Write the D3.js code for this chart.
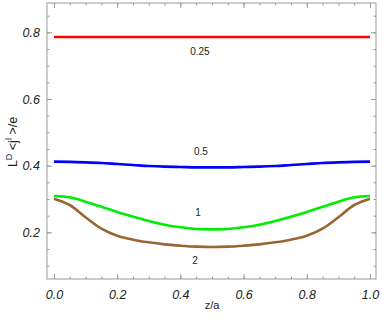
<!DOCTYPE html>
<html>
<head>
<meta charset="UTF-8">
<script src="https://d3js.org/d3.v7.min.js"></script>
<style>
  body { margin: 0; background: #fff; }
  .tick text { font-family: "Liberation Sans", Arial, sans-serif; font-style: italic; font-size: 12.5px; fill: #222; }
  .curveLabel { font-family: "Liberation Sans", Arial, sans-serif; font-size: 10px; fill: #222; }
</style>
</head>
<body>
<svg width="382" height="327"></svg>
<script>
// z/a sample points
const zs = [0, 0.05, 0.1, 0.15, 0.2, 0.25, 0.3, 0.35, 0.4, 0.45, 0.5,
            0.55, 0.6, 0.65, 0.7, 0.75, 0.8, 0.85, 0.9, 0.95, 1];

// current density for each parameter value
const v025 = [0.786, 0.786, 0.786, 0.786, 0.786, 0.786, 0.786, 0.786, 0.786, 0.786, 0.786,
              0.786, 0.786, 0.786, 0.786, 0.786, 0.786, 0.786, 0.786, 0.786, 0.786];
const v05  = [0.412, 0.4115, 0.410, 0.408, 0.405, 0.402, 0.399, 0.397, 0.396, 0.395, 0.395,
              0.395, 0.396, 0.397, 0.399, 0.402, 0.405, 0.408, 0.410, 0.4115, 0.412];
const v1   = [0.309, 0.305, 0.292, 0.277, 0.261, 0.247, 0.234, 0.223, 0.215, 0.210, 0.209,
              0.210, 0.215, 0.223, 0.234, 0.247, 0.261, 0.277, 0.292, 0.305, 0.309];
const v2   = [0.301, 0.282, 0.245, 0.211, 0.190, 0.178, 0.170, 0.164, 0.160, 0.157, 0.156,
              0.157, 0.160, 0.164, 0.170, 0.178, 0.190, 0.211, 0.245, 0.282, 0.301];

const seriesNames = ["0.25", "0.5", "1", "2"];
const seriesColors = ["#ff0000", "#0000ff", "#00ee00", "#996633"];
const seriesValues = [v025, v05, v1, v2];
// label anchor points (z, value)
const labelPos = [[0.462, 0.742], [0.465, 0.442], [0.456, 0.259], [0.446, 0.115]];

const xTicks = [0, 0.2, 0.4, 0.6, 0.8, 1.0];
const yTicks = [0.2, 0.4, 0.6, 0.8];

const svg = d3.select("svg");
const mLeft = 47, mRight = 376, mTop = 3, mBottom = 279;

const x = d3.scaleLinear().domain([-0.022, 1.019]).range([mLeft, mRight]);
const y = d3.scaleLinear().domain([0.060, 0.888]).range([mBottom, mTop]);

const xMinor = d3.range(0, 1.0001, 0.05).map(d => +d.toFixed(2));
const yMinor = d3.range(0.1, 0.8501, 0.05).map(d => +d.toFixed(2));

function styleAxis(g) {
  g.select(".domain").remove();
  g.selectAll(".tick line").attr("stroke", "#999").attr("stroke-width", 1);
}

// minor ticks on all four sides
svg.append("g").attr("transform", `translate(0,${mBottom})`)
  .call(d3.axisBottom(x).tickValues(xMinor).tickSize(-2.5).tickFormat("")).call(styleAxis);
svg.append("g").attr("transform", `translate(0,${mTop})`)
  .call(d3.axisTop(x).tickValues(xMinor).tickSize(-2.5).tickFormat("")).call(styleAxis);
svg.append("g").attr("transform", `translate(${mLeft},0)`)
  .call(d3.axisLeft(y).tickValues(yMinor).tickSize(-2.5).tickFormat("")).call(styleAxis);
svg.append("g").attr("transform", `translate(${mRight},0)`)
  .call(d3.axisRight(y).tickValues(yMinor).tickSize(-2.5).tickFormat("")).call(styleAxis);

// major ticks
svg.append("g").attr("transform", `translate(0,${mBottom})`)
  .call(d3.axisBottom(x).tickValues(xTicks).tickSize(-5).tickPadding(11).tickFormat(d3.format(".1f")))
  .call(styleAxis);
svg.append("g").attr("transform", `translate(0,${mTop})`)
  .call(d3.axisTop(x).tickValues(xTicks).tickSize(-5).tickFormat("")).call(styleAxis);
svg.append("g").attr("transform", `translate(${mLeft},0)`)
  .call(d3.axisLeft(y).tickValues(yTicks).tickSize(-5).tickPadding(7).tickFormat(d3.format(".1f")))
  .call(styleAxis);
svg.append("g").attr("transform", `translate(${mRight},0)`)
  .call(d3.axisRight(y).tickValues(yTicks).tickSize(-5).tickFormat("")).call(styleAxis);

// frame
svg.append("rect")
  .attr("x", mLeft).attr("y", mTop)
  .attr("width", mRight - mLeft).attr("height", mBottom - mTop)
  .attr("fill", "none").attr("stroke", "#999").attr("stroke-width", 1);

// curves
const line = d3.line().curve(d3.curveCatmullRom.alpha(0.5));
seriesValues.forEach((vals, i) => {
  svg.append("path")
    .datum(zs.map((z, j) => [x(z), y(vals[j])]))
    .attr("d", line)
    .attr("fill", "none")
    .attr("stroke", seriesColors[i])
    .attr("stroke-width", 2.6);
});

// curve labels
svg.selectAll(".curveLabel")
  .data(seriesNames)
  .join("text")
  .attr("class", "curveLabel")
  .attr("x", (d, i) => x(labelPos[i][0]))
  .attr("y", (d, i) => y(labelPos[i][1]))
  .attr("text-anchor", "middle")
  .attr("dy", "0.35em")
  .text(d => d);

// axis titles
svg.append("text")
  .attr("x", x(0.5)).attr("y", 309)
  .attr("text-anchor", "middle")
  .attr("font-family", "Liberation Sans, Arial, sans-serif")
  .attr("font-size", 11).attr("fill", "#222")
  .text("z/a");

const yt = svg.append("text")
  .attr("transform", "translate(17,142) rotate(-90)")
  .attr("text-anchor", "middle")
  .attr("font-family", "Liberation Sans, Arial, sans-serif")
  .attr("font-size", 12.5).attr("fill", "#222");
yt.append("tspan").text("L");
yt.append("tspan").attr("dy", -5).attr("font-size", 9).text("D");
yt.append("tspan").attr("dy", 5).text(" <j");
yt.append("tspan").attr("dy", -5).attr("font-size", 9).text("l");
yt.append("tspan").attr("dy", 5).text(" >/e");
</script>
</body>
</html>
